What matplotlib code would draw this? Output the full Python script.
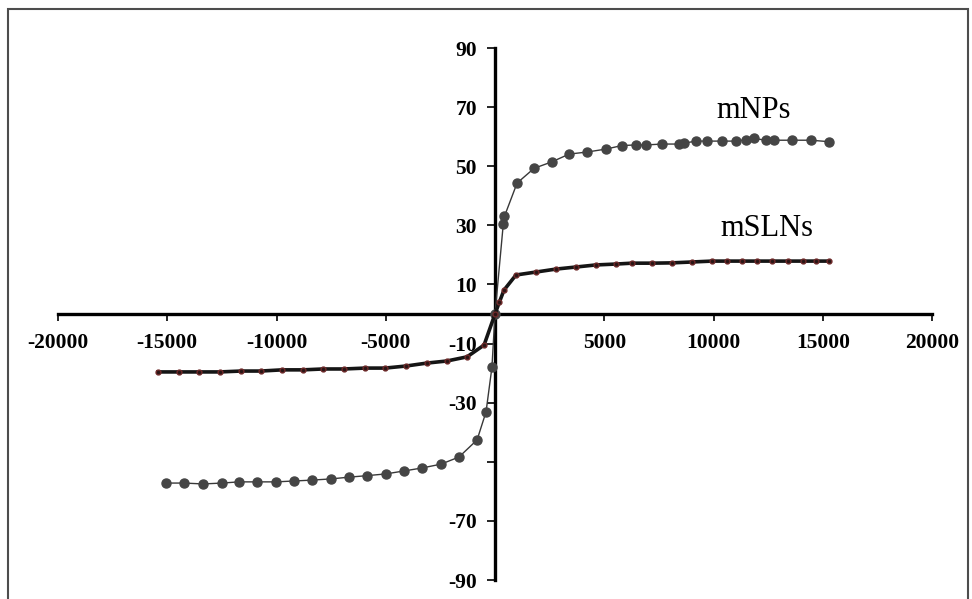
import matplotlib.pyplot as plt
from matplotlib.patches import Rectangle

# mNPs magnetisation loop (field in Oe, emu/g)
nps_x = [-15060, -14230, -13360, -12490, -11720, -10890, -10020, -9200, -8370, -7510,
         -6680, -5860, -4990, -4160, -3340, -2470, -1650, -820, -410, -140, 0,
         380, 430, 1010, 1790, 2610, 3390, 4210, 5080, 5810, 6450, 6910, 7640,
         8420, 8650, 9200, 9700, 10390, 11030, 11490, 11850, 12400, 12770,
         13590, 14460, 15290]
nps_y = [-57.2, -57.2, -57.5, -57.2, -56.8, -56.8, -56.8, -56.5, -56.2, -55.8,
         -55.2, -54.7, -54.1, -53.1, -52.1, -50.8, -48.4, -42.6, -33.1, -18, 0,
         30.5, 33, 44.3, 49.3, 51.5, 54.1, 54.8, 55.8, 57, 57.2, 57.2, 57.5,
         57.5, 57.8, 58.5, 58.5, 58.5, 58.5, 59, 59.4, 58.8, 58.8,
         58.8, 58.8, 58.3]

# mSLNs magnetisation loop
sln_x = [-15420, -14460, -13550, -12590, -11620, -10710, -9750, -8790, -7870, -6910,
         -5950, -5030, -4070, -3110, -2200, -1280, -500, 0,
         200, 412, 960, 1880, 2790, 3710, 4620, 5540, 6270, 7190, 8100, 9020,
         9930, 10600, 11300, 12000, 12700, 13400, 14100, 14700, 15290]
sln_y = [-19.6, -19.6, -19.6, -19.6, -19.3, -19.3, -18.9, -18.9, -18.6, -18.6,
         -18.3, -18.3, -17.6, -16.6, -15.9, -14.5, -10.5, 0,
         4, 8.1, 13.2, 14.2, 15.2, 15.9, 16.6, 16.9, 17.2, 17.2, 17.3, 17.6,
         17.9, 17.9, 17.9, 17.9, 17.9, 17.9, 17.9, 17.9, 17.9]

x_ticks = [-20000, -15000, -10000, -5000, 5000, 10000, 15000, 20000]
y_ticks = [90, 70, 50, 30, 10, -10, -30, -50, -70, -90]
y_labels = ['90', '70', '50', '30', '10', '-10', '-30', '', '-70', '-90']

fig = plt.figure(figsize=(9.72, 5.99), dpi=100)
ax = fig.add_axes([58 / 972, 19 / 599, 874 / 972, 532 / 599])

# outer frame (bottom edge falls off the picture)
fig.patches.append(Rectangle((8 / 972, -0.1), 960 / 972, 1.1 - 9 / 599,
                             transform=fig.transFigure, fill=False,
                             edgecolor='#4d4d4d', linewidth=1.5))

ax.plot(nps_x, nps_y, '-o', color='#383838', linewidth=1.0, markersize=6.5,
        markerfacecolor='#454545', markeredgecolor='#454545', zorder=3)
ax.plot(sln_x, sln_y, '-o', color='#151515', linewidth=2.6, markersize=3.5,
        markerfacecolor='#2a1515', markeredgecolor='#6e2a2a', zorder=4)

ax.set_xlim(-20000, 20000)
ax.set_ylim(-90, 90)

for s in ['top', 'right']:
    ax.spines[s].set_visible(False)
ax.spines['left'].set_position(('data', 0))
ax.spines['bottom'].set_position(('data', 0))
ax.spines['left'].set_linewidth(2.4)
ax.spines['bottom'].set_linewidth(2.4)

tick_font = dict(family='Liberation Serif', weight='bold', size=15.5)
ax.set_xticks(x_ticks)
ax.set_xticklabels([str(t) for t in x_ticks], fontdict=tick_font)
ax.set_yticks(y_ticks)
ax.set_yticklabels(y_labels, fontdict=tick_font)
ax.tick_params(axis='x', direction='out', length=5, width=1.2, pad=9)
ax.tick_params(axis='y', direction='out', length=6, width=1.2, pad=7)
ax.patch.set_visible(False)

ax.text(11850, 69, 'mNPs', family='Liberation Serif', fontsize=22,
        ha='center', va='center')
ax.text(12450, 29, 'mSLNs', family='Liberation Serif', fontsize=22,
        ha='center', va='center')

fig.savefig('out.png', dpi=100)
